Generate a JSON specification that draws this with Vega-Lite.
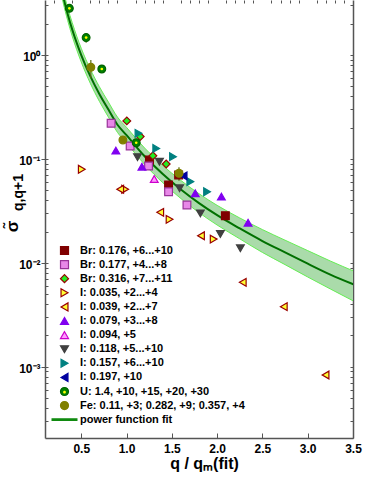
{
  "$schema": "https://vega.github.io/schema/vega-lite/v6.json",
  "width": 308,
  "height": 438,
  "autosize": {"type": "none"},
  "padding": {"left": 45, "top": 0, "right": 21, "bottom": 46},
  "background": "white",
  "config": {
    "view": {"stroke": null},
    "font": "Liberation Sans",
    "axis": {"labelFont": "Liberation Sans", "labelFontWeight": "bold", "labelColor": "black", "titleColor": "black", "titleFont": "Liberation Sans", "domainColor": "#555555", "tickColor": "#555555", "grid": false},
    "legend": {"title": null, "padding": 0, "labelFont": "Liberation Sans", "labelFontSize": 11, "labelFontWeight": "bold", "labelColor": "black", "rowPadding": 1.1, "labelOffset": 10, "labelLimit": 300}
  },
  "datasets": {
    "pts": [
      {"s": "Br: 0.176, +6...+10", "x": 1.253, "y": 0.0975},
      {"s": "Br: 0.176, +6...+10", "x": 1.464, "y": 0.0561},
      {"s": "Br: 0.176, +6...+10", "x": 1.575, "y": 0.070},
      {"s": "Br: 0.176, +6...+10", "x": 2.091, "y": 0.0284},
      {"s": "Br: 0.177, +4...+8", "x": 0.830, "y": 0.220},
      {"s": "Br: 0.177, +4...+8", "x": 1.040, "y": 0.133},
      {"s": "Br: 0.177, +4...+8", "x": 1.243, "y": 0.0854},
      {"s": "Br: 0.177, +4...+8", "x": 1.464, "y": 0.0483},
      {"s": "Br: 0.177, +4...+8", "x": 1.667, "y": 0.036},
      {"s": "Br: 0.316, +7...+11", "x": 1.003, "y": 0.232},
      {"s": "Br: 0.316, +7...+11", "x": 1.151, "y": 0.164},
      {"s": "Br: 0.316, +7...+11", "x": 1.291, "y": 0.107},
      {"s": "Br: 0.316, +7...+11", "x": 1.438, "y": 0.0893},
      {"s": "I: 0.035, +2...+4", "x": 0.506, "y": 0.0794},
      {"s": "I: 0.035, +2...+4", "x": 0.985, "y": 0.051},
      {"s": "I: 0.035, +2...+4", "x": 1.475, "y": 0.0262},
      {"s": "I: 0.035, +2...+4", "x": 1.962, "y": 0.0169},
      {"s": "I: 0.039, +2...+7", "x": 0.930, "y": 0.051},
      {"s": "I: 0.039, +2...+7", "x": 1.372, "y": 0.0306},
      {"s": "I: 0.039, +2...+7", "x": 1.822, "y": 0.0182},
      {"s": "I: 0.039, +2...+7", "x": 2.283, "y": 0.00649},
      {"s": "I: 0.039, +2...+7", "x": 2.736, "y": 0.00378},
      {"s": "I: 0.039, +2...+7", "x": 3.197, "y": 0.000832},
      {"s": "I: 0.079, +3...+8", "x": 0.882, "y": 0.12},
      {"s": "I: 0.079, +3...+8", "x": 1.170, "y": 0.0841},
      {"s": "I: 0.079, +3...+8", "x": 1.759, "y": 0.0467},
      {"s": "I: 0.079, +3...+8", "x": 2.047, "y": 0.0433},
      {"s": "I: 0.079, +3...+8", "x": 2.342, "y": 0.0243},
      {"s": "I: 0.094, +5", "x": 1.306, "y": 0.064},
      {"s": "I: 0.118, +5...+10", "x": 1.121, "y": 0.104},
      {"s": "I: 0.118, +5...+10", "x": 1.364, "y": 0.0937},
      {"s": "I: 0.118, +5...+10", "x": 1.586, "y": 0.0521},
      {"s": "I: 0.118, +5...+10", "x": 1.815, "y": 0.0299},
      {"s": "I: 0.118, +5...+10", "x": 2.036, "y": 0.0189},
      {"s": "I: 0.118, +5...+10", "x": 2.257, "y": 0.0138},
      {"s": "I: 0.157, +6...+10", "x": 1.132, "y": 0.176},
      {"s": "I: 0.157, +6...+10", "x": 1.328, "y": 0.126},
      {"s": "I: 0.157, +6...+10", "x": 1.513, "y": 0.105},
      {"s": "I: 0.157, +6...+10", "x": 1.704, "y": 0.0604},
      {"s": "I: 0.157, +6...+10", "x": 1.889, "y": 0.0483},
      {"s": "I: 0.197, +10", "x": 1.630, "y": 0.0685},
      {"s": "U: 1.4, +10, +15, +20, +30", "x": 0.369, "y": 2.81, "lo": 2.65, "hi": 2.98},
      {"s": "U: 1.4, +10, +15, +20, +30", "x": 0.554, "y": 1.47, "lo": 1.314, "hi": 1.617},
      {"s": "U: 1.4, +10, +15, +20, +30", "x": 0.727, "y": 0.733, "lo": 0.68, "hi": 0.79},
      {"s": "U: 1.4, +10, +15, +20, +30", "x": 1.107, "y": 0.143},
      {"s": "Fe: 0.11, +3; 0.282, +9; 0.357, +4", "x": 0.606, "y": 0.761, "lo": 0.597, "hi": 0.895},
      {"s": "Fe: 0.11, +3; 0.282, +9; 0.357, +4", "x": 0.960, "y": 0.152},
      {"s": "Fe: 0.11, +3; 0.282, +9; 0.357, +4", "x": 1.579, "y": 0.0727, "lo": 0.0617, "hi": 0.0829}
    ],
    "fit": [
      {"x": 0.28, "f": 4.40, "lo": 3.83, "hi": 5.06},
      {"x": 0.30, "f": 3.68, "lo": 3.20, "hi": 4.23},
      {"x": 0.35, "f": 2.48, "lo": 2.15, "hi": 2.86},
      {"x": 0.40, "f": 1.764, "lo": 1.52, "hi": 2.05},
      {"x": 0.45, "f": 1.305, "lo": 1.123, "hi": 1.518},
      {"x": 0.50, "f": 0.997, "lo": 0.856, "hi": 1.16},
      {"x": 0.60, "f": 0.625, "lo": 0.534, "hi": 0.731},
      {"x": 0.70, "f": 0.421, "lo": 0.358, "hi": 0.495},
      {"x": 0.80, "f": 0.298, "lo": 0.2525, "hi": 0.352},
      {"x": 0.90, "f": 0.213, "lo": 0.1797, "hi": 0.2524},
      {"x": 1.00, "f": 0.169, "lo": 0.142, "hi": 0.201},
      {"x": 1.20, "f": 0.106, "lo": 0.0883, "hi": 0.1272},
      {"x": 1.40, "f": 0.0714, "lo": 0.0590, "hi": 0.0864},
      {"x": 1.60, "f": 0.0507, "lo": 0.0415, "hi": 0.0620},
      {"x": 1.80, "f": 0.0375, "lo": 0.0304, "hi": 0.0462},
      {"x": 2.00, "f": 0.0287, "lo": 0.0231, "hi": 0.0357},
      {"x": 2.25, "f": 0.0214, "lo": 0.0170, "hi": 0.0270},
      {"x": 2.50, "f": 0.0162, "lo": 0.01258, "hi": 0.02087},
      {"x": 2.75, "f": 0.0126, "lo": 0.0096, "hi": 0.0165},
      {"x": 3.00, "f": 0.0098, "lo": 0.0073, "hi": 0.0131},
      {"x": 3.25, "f": 0.0077, "lo": 0.0056, "hi": 0.0104},
      {"x": 3.525, "f": 0.0061, "lo": 0.0042, "hi": 0.0082}
    ]
  },
  "layer": [
    {
      "data": {"name": "fit"},
      "mark": {"type": "area", "clip": true, "fill": "#aadbaa", "stroke": "#66ee55", "strokeWidth": 1, "interpolate": "monotone"},
      "encoding": {
        "x": {"field": "x", "type": "quantitative", "scale": {"domain": [0.1, 3.5], "nice": false, "zero": false},
          "axis": {"values": [0.5, 1, 1.5, 2, 2.5, 3, 3.5], "format": ".1f", "tickSize": -5, "tickWidth": 1, "labelPadding": 10, "labelFontSize": 12, "labelFlush": false, "labelOverlap": false, "domainWidth": 1.5,
            "title": "q / qₘ(fit)", "titleFontSize": 16, "titleFontWeight": "bold", "titleX": 159, "titleY": 30, "titleBaseline": "alphabetic", "titleAlign": "center"}},
        "y": {"field": "hi", "type": "quantitative", "scale": {"type": "log", "domain": [0.000206, 3.38], "nice": false},
          "axis": {"values": [0.001, 0.01, 0.1, 1], "tickSize": 4, "labelFontSize": 12, "labelPadding": 1, "labelBaseline": "middle", "labelOffset": 2, "domainWidth": 1.5,
            "labelExpr": "datum.value >= 0.5 ? '10⁰' : datum.value >= 0.05 ? '10⁻¹' : datum.value >= 0.005 ? '10⁻²' : '10⁻³'",
            "title": "σ̃", "titleFontSize": 17, "titleFontWeight": "bold", "titleAngle": -90, "titleX": -28, "titleY": 226, "titleBaseline": "alphabetic", "titleAlign": "center"}},
        "y2": {"field": "lo"}
      }
    },
    {
      "data": {"name": "fit"},
      "mark": {"type": "line", "clip": true, "color": "#007000", "strokeWidth": 2, "interpolate": "monotone"},
      "encoding": {
        "x": {"field": "x", "type": "quantitative", "scale": {"domain": [0.1, 3.5], "nice": false, "zero": false},
          "axis": {"values": [0.2, 0.3, 0.4, 0.6, 0.7, 0.8, 0.9, 1.1, 1.2, 1.3, 1.4, 1.6, 1.7, 1.8, 1.9, 2.1, 2.2, 2.3, 2.4, 2.6, 2.7, 2.8, 2.9, 3.1, 3.2, 3.3, 3.4], "tickSize": -3, "labels": false, "domain": false, "title": null}},
        "y": {"field": "f", "type": "quantitative", "scale": {"type": "log", "domain": [0.000206, 3.38], "nice": false},
          "axis": {"orient": "left", "values": [0.0003, 0.0004, 0.0005, 0.0006, 0.0007, 0.0008, 0.0009, 0.001, 0.002, 0.003, 0.004, 0.005, 0.006, 0.007, 0.008, 0.009, 0.01, 0.02, 0.03, 0.04, 0.05, 0.06, 0.07, 0.08, 0.09, 0.1, 0.2, 0.3, 0.4, 0.5, 0.6, 0.7, 0.8, 0.9, 1, 2, 3],
            "tickSize": -3, "labels": false, "domain": false,
            "title": "q,q+1", "titleFontSize": 14, "titleFontWeight": "bold", "titleAngle": -90, "titleX": -23, "titleY": 192, "titleBaseline": "alphabetic", "titleAlign": "center"}}
      }
    },
    {
      "data": {"name": "pts"},
      "transform": [{"filter": "isValid(datum.lo)"}],
      "mark": {"type": "rule", "strokeWidth": 1.2, "color": "#5a6b10"},
      "encoding": {
        "x": {"field": "x", "type": "quantitative", "axis": null},
        "y": {"field": "lo", "type": "quantitative", "axis": null},
        "y2": {"field": "hi"}
      }
    },
    {
      "data": {"name": "pts"},
      "mark": {"type": "point", "filled": true, "size": 60, "strokeWidth": 1.2, "opacity": 1},
      "encoding": {
        "x": {"field": "x", "type": "quantitative", "axis": null},
        "y": {"field": "y", "type": "quantitative",
          "axis": {"orient": "right", "values": [0.0003, 0.0004, 0.0005, 0.0006, 0.0007, 0.0008, 0.0009, 0.001, 0.002, 0.003, 0.004, 0.005, 0.006, 0.007, 0.008, 0.009, 0.01, 0.02, 0.03, 0.04, 0.05, 0.06, 0.07, 0.08, 0.09, 0.1, 0.2, 0.3, 0.4, 0.5, 0.6, 0.7, 0.8, 0.9, 1, 2, 3],
            "tickSize": -3, "labels": false, "domainWidth": 1.5, "title": null}},
        "shape": {"field": "s", "type": "nominal",
          "scale": {"domain": ["Br: 0.176, +6...+10", "Br: 0.177, +4...+8", "Br: 0.316, +7...+11", "I: 0.035, +2...+4", "I: 0.039, +2...+7", "I: 0.079, +3...+8", "I: 0.094, +5", "I: 0.118, +5...+10", "I: 0.157, +6...+10", "I: 0.197, +10", "U: 1.4, +10, +15, +20, +30", "Fe: 0.11, +3; 0.282, +9; 0.357, +4", "power function fit"],
            "range": ["square", "square", "diamond", "triangle-right", "triangle-left", "triangle-up", "triangle-up", "triangle-down", "triangle-right", "triangle-left", "circle", "circle", "M-3.1,-0.2H3.1V0.2H-3.1Z"]},
          "legend": {"orient": "none", "legendX": 14, "legendY": 245, "symbolSize": 64, "symbolStrokeWidth": 1.2}},
        "fill": {"field": "s", "type": "nominal",
          "scale": {"domain": ["Br: 0.176, +6...+10", "Br: 0.177, +4...+8", "Br: 0.316, +7...+11", "I: 0.035, +2...+4", "I: 0.039, +2...+7", "I: 0.079, +3...+8", "I: 0.094, +5", "I: 0.118, +5...+10", "I: 0.157, +6...+10", "I: 0.197, +10", "U: 1.4, +10, +15, +20, +30", "Fe: 0.11, +3; 0.282, +9; 0.357, +4", "power function fit"],
            "range": ["#800000", "#e888e8", "#22ee22", "#ffff33", "#ffff33", "#8000f0", "#ff99ff", "#404040", "#008080", "#0000a0", "#008000", "#808000", "#108a10"]},
          "legend": {"orient": "none", "legendX": 14, "legendY": 245, "symbolSize": 64, "symbolStrokeWidth": 1.2}},
        "stroke": {"field": "s", "type": "nominal",
          "scale": {"domain": ["Br: 0.176, +6...+10", "Br: 0.177, +4...+8", "Br: 0.316, +7...+11", "I: 0.035, +2...+4", "I: 0.039, +2...+7", "I: 0.079, +3...+8", "I: 0.094, +5", "I: 0.118, +5...+10", "I: 0.157, +6...+10", "I: 0.197, +10", "U: 1.4, +10, +15, +20, +30", "Fe: 0.11, +3; 0.282, +9; 0.357, +4", "power function fit"],
            "range": ["#800000", "#993399", "#990000", "#990000", "#990000", "#8000f0", "#cc00cc", "#404040", "#008080", "#0000a0", "#006400", "#808000", "#108a10"]},
          "legend": {"orient": "none", "legendX": 14, "legendY": 245, "symbolSize": 64, "symbolStrokeWidth": 1.2}}
      }
    },
    {
      "data": {"name": "pts"},
      "transform": [{"filter": "indexof(datum.s, 'U:') === 0"}],
      "mark": {"type": "circle", "size": 7, "opacity": 1},
      "encoding": {
        "x": {"field": "x", "type": "quantitative", "axis": null},
        "y": {"field": "y", "type": "quantitative", "axis": null},
        "color": {"field": "s", "type": "nominal", "scale": {"domain": ["U: 1.4, +10, +15, +20, +30"], "range": ["#ffff00"]},
          "legend": {"orient": "none", "legendX": 14, "legendY": 386.7, "symbolSize": 64, "symbolType": "M0.35,0A0.35,0.35,0,1,1,-0.35,0A0.35,0.35,0,1,1,0.35,0Z", "labelExpr": "''", "symbolStrokeWidth": 0}}
      }
    }
  ],
  "resolve": {"axis": {"x": "independent", "y": "independent"}}
}
